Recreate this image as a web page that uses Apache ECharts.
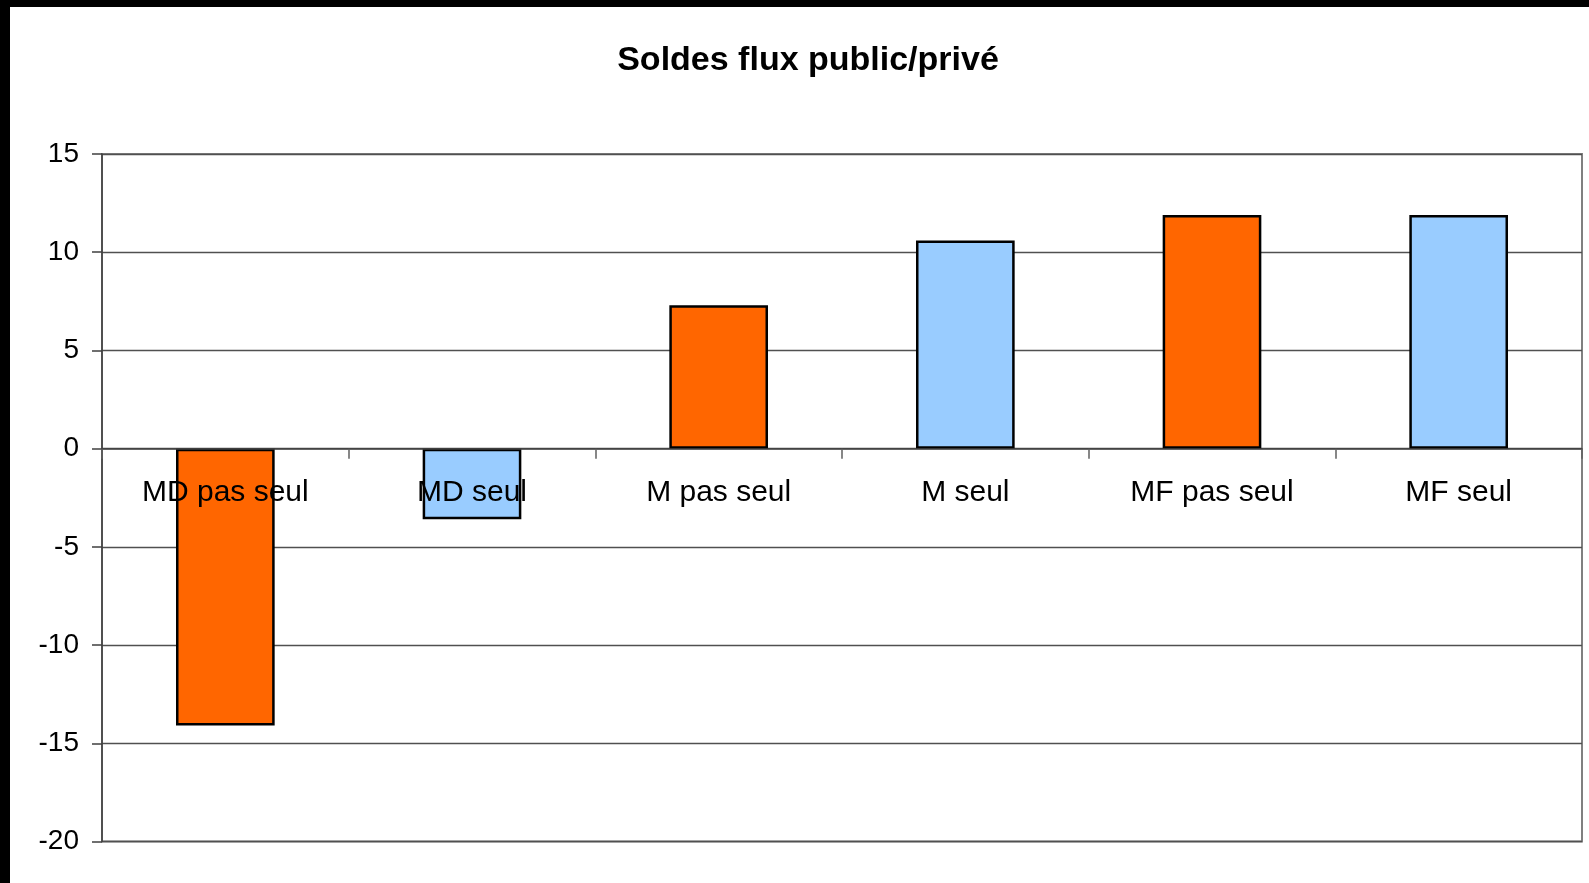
<!DOCTYPE html>
<html>
<head>
<meta charset="utf-8">
<script src="https://cdn.jsdelivr.net/npm/echarts@6/dist/echarts.min.js"></script>
<style>
html,body{margin:0;padding:0;background:#fff;}
#chart{width:1589px;height:883px;}
</style>
</head>
<body>
<div id="chart"></div>
<script>
const titleText = 'Soldes flux public/privé';
const categories = ['MD pas seul', 'MD seul', 'M pas seul', 'M seul', 'MF pas seul', 'MF seul'];
const values = [-14.1, -3.6, 7.3, 10.6, 11.9, 11.9];
const yTicks = { min: -20, max: 15, interval: 5 };

const ORANGE = '#FF6600';
const BLUE = '#99CCFF';
const FONT = 'Liberation Sans, Arial, sans-serif';

const GRID_TOP = 154, GRID_BOTTOM = 41.5, H = 883;
const plotH = H - GRID_TOP - GRID_BOTTOM;
// offset of the category axis from the bottom of the grid, so that it sits at value 0
const zeroOffset = plotH * (0 - yTicks.min) / (yTicks.max - yTicks.min);

const chart = echarts.init(document.getElementById('chart'), null, { renderer: 'canvas' });
chart.setOption({
  backgroundColor: '#ffffff',
  animation: false,
  title: {
    text: titleText,
    left: 803,
    top: 39,
    textAlign: 'center',
    textStyle: { fontFamily: FONT, fontSize: 34, fontWeight: 'bold', color: '#000' }
  },
  graphic: [
    { type: 'rect', left: 0, top: 0, shape: { width: 1589, height: 7 }, style: { fill: '#000' }, z: 100 },
    { type: 'rect', left: 0, top: 0, shape: { width: 10, height: 883 }, style: { fill: '#000' }, z: 100 }
  ],
  grid: {
    left: 102, top: GRID_TOP, right: 7, bottom: GRID_BOTTOM,
    containLabel: false,
    outerBoundsMode: 'none',
    show: true, borderColor: '#808080', borderWidth: 2, backgroundColor: 'transparent'
  },
  xAxis: {
    type: 'category',
    data: categories,
    position: 'bottom',
    offset: -zeroOffset,
    z: 10,
    axisLine: { onZero: false, lineStyle: { color: '#404040', width: 1.5 } },
    axisTick: { show: true, length: 10, inside: false, lineStyle: { color: '#606060', width: 1.5 } },
    axisLabel: { fontFamily: FONT, fontSize: 30, color: '#000', margin: 29, interval: 0 },
    splitLine: { show: false }
  },
  yAxis: {
    type: 'value',
    min: yTicks.min, max: yTicks.max, interval: yTicks.interval,
    axisLine: { show: true, lineStyle: { color: '#404040', width: 1.5 } },
    axisTick: { show: true, length: 10, lineStyle: { color: '#404040', width: 1.5 } },
    axisLabel: { fontFamily: FONT, fontSize: 28, color: '#000', margin: 23 },
    splitLine: { show: true, lineStyle: { color: '#505050', width: 1.3 } }
  },
  series: [{
    type: 'bar',
    data: values,
    barWidth: '40%',
    itemStyle: {
      color: p => (p.dataIndex % 2 === 0 ? ORANGE : BLUE),
      borderColor: '#000',
      borderWidth: 2.5
    }
  }]
});
</script>
</body>
</html>
